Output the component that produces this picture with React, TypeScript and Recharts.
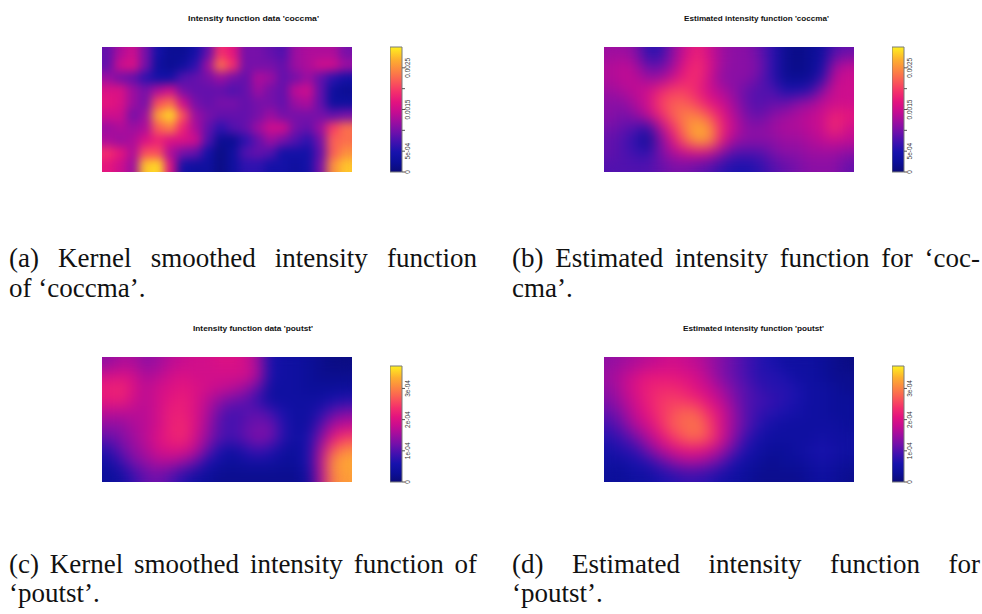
import { useMemo } from "react";
import { ScatterChart, Scatter, XAxis, YAxis, ReferenceArea, BarChart, Bar } from "recharts";

// Four intensity surfaces on a 20 x 10 grid (top row first).
// coccma values are in units of 1e-4, poutst values in units of 1e-5.
const COLS = 20;
const ROWS = 10;

const coccmaData = [
  [9, 13, 15, 10, 4, 2, 2, 4, 9, 19, 17, 10, 10, 9, 8, 12, 13, 13, 13, 10],
  [9, 15, 16, 10, 3, 2, 3, 6, 12, 23, 19, 10, 10, 10, 9, 12, 13, 15, 15, 12],
  [12, 10, 9, 6, 4, 4, 8, 9, 10, 12, 10, 9, 13, 12, 9, 10, 12, 9, 6, 4],
  [16, 16, 12, 10, 13, 15, 10, 9, 9, 9, 8, 9, 12, 10, 9, 14, 15, 9, 3, 2],
  [17, 16, 12, 10, 21, 23, 15, 10, 9, 10, 10, 9, 10, 10, 9, 12, 13, 9, 3, 3],
  [15, 15, 10, 12, 26, 29, 21, 12, 10, 9, 9, 9, 10, 12, 10, 10, 10, 10, 9, 10],
  [12, 13, 12, 13, 22, 24, 18, 13, 9, 6, 8, 9, 12, 15, 15, 10, 9, 12, 20, 23],
  [13, 12, 13, 16, 18, 16, 16, 15, 8, 2, 2, 6, 9, 12, 10, 8, 6, 10, 22, 23],
  [19, 17, 13, 21, 21, 13, 10, 9, 4, 1, 3, 8, 9, 8, 4, 4, 4, 9, 22, 25],
  [17, 15, 12, 28, 29, 16, 4, 3, 3, 1, 3, 6, 6, 4, 4, 3, 4, 10, 25, 28],
];

const coccmaEstimated = [
  [12, 12, 11, 6, 6, 11, 15, 18, 15, 12, 11, 11, 9, 6, 2, 1, 2, 3, 8, 9],
  [13, 14, 13, 9, 9, 12, 17, 19, 16, 12, 11, 11, 10, 6, 2, 1, 2, 4, 12, 14],
  [13, 14, 14, 12, 12, 15, 18, 19, 15, 11, 11, 11, 9, 6, 2, 2, 2, 6, 14, 15],
  [12, 13, 14, 15, 18, 20, 20, 18, 15, 13, 11, 9, 8, 8, 5, 5, 6, 11, 15, 15],
  [11, 11, 13, 15, 20, 22, 22, 20, 17, 15, 12, 9, 8, 9, 9, 11, 12, 14, 15, 15],
  [11, 10, 11, 14, 18, 22, 24, 24, 21, 17, 13, 10, 9, 11, 12, 13, 14, 15, 18, 17],
  [10, 9, 8, 6, 13, 19, 24, 27, 25, 18, 14, 11, 11, 12, 13, 13, 14, 15, 19, 15],
  [9, 8, 6, 2, 10, 16, 22, 26, 25, 17, 12, 11, 11, 11, 12, 12, 13, 14, 15, 14],
  [9, 8, 7, 6, 10, 13, 15, 16, 15, 11, 8, 8, 8, 10, 11, 11, 12, 12, 12, 11],
  [8, 8, 8, 8, 9, 10, 10, 9, 8, 6, 5, 5, 6, 8, 9, 10, 11, 11, 11, 9],
];

const poutstData = [
  [14, 16, 16, 14, 15, 17, 18, 19, 19, 20, 20, 19, 15, 6, 4, 4, 3, 2, 1, 1],
  [19, 20, 19, 16, 17, 19, 20, 19, 19, 19, 19, 19, 16, 6, 4, 4, 3, 2, 2, 2],
  [22, 23, 20, 17, 19, 20, 21, 20, 19, 18, 17, 15, 11, 4, 4, 4, 3, 3, 3, 3],
  [21, 22, 19, 17, 19, 21, 22, 20, 17, 14, 12, 11, 8, 4, 4, 4, 4, 4, 6, 7],
  [17, 17, 17, 17, 19, 22, 22, 20, 16, 11, 9, 10, 11, 9, 6, 4, 4, 7, 11, 13],
  [14, 14, 16, 17, 19, 22, 23, 20, 15, 10, 9, 11, 12, 12, 7, 4, 4, 10, 16, 18],
  [11, 13, 15, 17, 20, 22, 23, 19, 14, 10, 9, 11, 13, 12, 7, 4, 6, 13, 21, 25],
  [7, 11, 14, 16, 19, 20, 20, 17, 11, 6, 4, 7, 9, 7, 4, 3, 6, 16, 27, 31],
  [4, 8, 12, 14, 16, 16, 14, 11, 6, 4, 3, 4, 4, 4, 3, 3, 6, 17, 31, 33],
  [3, 4, 8, 11, 12, 10, 7, 4, 3, 2, 2, 2, 2, 2, 2, 2, 4, 16, 30, 32],
];

const poutstEstimated = [
  [14, 15, 16, 17, 18, 19, 18, 17, 15, 13, 11, 9, 7, 6, 4, 4, 4, 3, 2, 1],
  [15, 17, 19, 21, 21, 21, 20, 19, 16, 13, 11, 9, 7, 7, 6, 4, 4, 3, 2, 2],
  [14, 17, 20, 22, 23, 23, 22, 20, 18, 15, 12, 10, 8, 7, 7, 6, 4, 4, 3, 2],
  [13, 16, 19, 22, 24, 25, 24, 23, 20, 17, 13, 10, 9, 8, 7, 6, 4, 4, 3, 3],
  [11, 14, 18, 21, 24, 26, 28, 27, 23, 19, 14, 10, 8, 7, 6, 5, 4, 4, 3, 3],
  [9, 12, 16, 19, 23, 27, 28, 29, 25, 19, 14, 10, 7, 5, 4, 4, 4, 4, 4, 3],
  [7, 9, 12, 16, 20, 24, 27, 28, 25, 19, 13, 8, 5, 4, 4, 4, 4, 5, 4, 4],
  [5, 7, 8, 12, 16, 19, 21, 21, 19, 15, 10, 6, 4, 3, 3, 4, 5, 6, 5, 4],
  [4, 4, 6, 7, 10, 13, 15, 15, 13, 10, 6, 4, 3, 2, 3, 3, 4, 5, 4, 3],
  [3, 3, 4, 4, 6, 7, 8, 8, 7, 5, 4, 3, 2, 2, 2, 2, 3, 4, 3, 2],
];

// colour ribbon scales (same units as the grids)
const coccmaMax = 30;
const coccmaTicks = [0, 5, 10, 15, 20, 25];
const coccmaTickLabels = ["0", "5e-04", "", "0.0015", "", "0.0025"];
const poutstMax = 37.2;
const poutstTicks = [0, 10, 20, 30];
const poutstTickLabels = ["0", "1e-04", "2e-04", "3e-04"];

// blue - magenta - yellow ramp
const STOPS: [number, string][] = [
  [0, "#0b0b78"],
  [0.08, "#0c0f9a"],
  [0.16, "#1812ad"],
  [0.24, "#4111b0"],
  [0.32, "#7010ab"],
  [0.4, "#9c0ea0"],
  [0.48, "#c60c91"],
  [0.56, "#e3137f"],
  [0.64, "#f42f6c"],
  [0.72, "#fa5758"],
  [0.8, "#fc7f45"],
  [0.9, "#fdb02f"],
  [1, "#fff01f"],
];

function rgb(h: string) {
  return [1, 3, 5].map((i) => parseInt(h.slice(i, i + 2), 16));
}

function colourAt(t: number) {
  const v = Math.max(0, Math.min(1, t));
  for (let i = 1; i < STOPS.length; i++) {
    if (v <= STOPS[i][0]) {
      const [t0, c0] = STOPS[i - 1];
      const [t1, c1] = STOPS[i];
      const f = (v - t0) / (t1 - t0);
      const a = rgb(c0);
      const b = rgb(c1);
      return `rgb(${a.map((x, k) => Math.round(x + (b[k] - x) * f)).join(",")})`;
    }
  }
  return STOPS[STOPS.length - 1][1];
}

const HM_W = 250;
const HM_H = 125;
const CB_W = 12;

function Heatmap({
  grid, max, left, top, soft,
}: { grid: number[][]; max: number; left: number; top: number; soft?: boolean }) {
  const data = useMemo(
    () => grid.flatMap((row, j) => row.map((v, i) => ({ x: i + 0.5, y: ROWS - j - 0.5, v }))),
    [grid],
  );
  const cw = HM_W / COLS;
  const ch = HM_H / ROWS;
  return (
    <div className={soft ? "heat-soft" : "heat-sharp"} style={{ position: "absolute", left, top }}>
      <ScatterChart width={HM_W} height={HM_H} margin={{ top: 0, right: 0, bottom: 0, left: 0 }}>
        <XAxis type="number" dataKey="x" domain={[0, COLS]} hide />
        <YAxis type="number" dataKey="y" domain={[0, ROWS]} hide />
        <Scatter
          data={data}
          isAnimationActive={false}
          shape={(p: any) => (
            <rect
              x={p.cx - cw / 2 - 0.4}
              y={p.cy - ch / 2 - 0.4}
              width={cw + 0.8}
              height={ch + 0.8}
              fill={colourAt(p.payload.v / max)}
            />
          )}
        />
        <ReferenceArea x1={0} x2={COLS} y1={0} y2={ROWS} fill="none" fillOpacity={0} stroke="#6f6f6f" strokeWidth={1} ifOverflow="visible" />
      </ScatterChart>
    </div>
  );
}

function ColourBar({
  left, top, height, max, ticks, labels,
}: { left: number; top: number; height: number; max: number; ticks: number[]; labels: string[] }) {
  return (
    <div style={{ position: "absolute", left, top: top - 6 }}>
      <BarChart
        width={CB_W + 26}
        height={height + 12}
        data={[{ k: "ribbon", v: max }]}
        margin={{ top: 6, right: 0, bottom: 6, left: 0 }}
        barCategoryGap={0}
      >
        <XAxis dataKey="k" hide />
        <YAxis
          orientation="right"
          width={26}
          domain={[0, max]}
          ticks={ticks}
          interval={0}
          tickSize={3}
          axisLine={false}
          tickLine={{ stroke: "#555" }}
          tick={(p: any) => (
            <text
              transform={`translate(${p.x + 2.5},${p.y}) rotate(-90)`}
              textAnchor="middle"
              fontSize={6.5}
              fill="#333"
              fontFamily="'Liberation Sans', Arial, sans-serif"
            >
              {labels[ticks.indexOf(p.payload.value)]}
            </text>
          )}
        />
        <Bar dataKey="v" fill="url(#cbGrad)" stroke="#7a7a7a" strokeWidth={1} isAnimationActive={false} />
      </BarChart>
    </div>
  );
}

const CAP_FONT = "'Liberation Serif', 'DejaVu Serif', serif";
const CAP_SIZE = 27;
let measureCtx: CanvasRenderingContext2D | null = null;

function textWidth(s: string) {
  if (!measureCtx) measureCtx = document.createElement("canvas").getContext("2d");
  if (!measureCtx) return s.length * CAP_SIZE * 0.45;
  measureCtx.font = `${CAP_SIZE}px "Liberation Serif"`;
  return measureCtx.measureText(s).width;
}

// lays the words of a justified caption line out between x0 and x1
function JustifiedLine({ text, x0, x1, y }: { text: string; x0: number; x1: number; y: number }) {
  const words = text.split(" ");
  const widths = words.map(textWidth);
  const gap = (x1 - x0 - widths.reduce((a, b) => a + b, 0)) / (words.length - 1);
  let x = x0;
  return (
    <>
      {words.map((w, i) => {
        const el = (
          <text key={i} x={x} y={y}>
            {w}
          </text>
        );
        x += widths[i] + gap;
        return el;
      })}
    </>
  );
}

function Title({ x, y, w, children }: { x: number; y: number; w: number; children: string }) {
  return (
    <text
      x={x}
      y={y}
      textAnchor="middle"
      fontSize={8}
      fontWeight="bold"
      fontFamily="'Liberation Sans', Arial, sans-serif"
      textLength={w}
      lengthAdjust="spacingAndGlyphs"
      fill="#111"
    >
      {children}
    </text>
  );
}

export default function App() {
  return (
    <div style={{ position: "absolute", left: 0, top: 0, width: 982, height: 614, background: "#fff", overflow: "hidden" }}>
      <style>{`.heat-sharp .recharts-scatter { filter: url(#blurSharp); } .heat-soft .recharts-scatter { filter: url(#blurSoft); }`}</style>

      <Heatmap grid={coccmaData} max={coccmaMax} left={102} top={47} />
      <ColourBar left={390} top={47} height={125} max={coccmaMax} ticks={coccmaTicks} labels={coccmaTickLabels} />

      <Heatmap grid={coccmaEstimated} max={coccmaMax} left={604} top={47} soft />
      <ColourBar left={892} top={47} height={125} max={coccmaMax} ticks={coccmaTicks} labels={coccmaTickLabels} />

      <Heatmap grid={poutstData} max={poutstMax} left={102} top={357} soft />
      <ColourBar left={390} top={366} height={116} max={poutstMax} ticks={poutstTicks} labels={poutstTickLabels} />

      <Heatmap grid={poutstEstimated} max={poutstMax} left={604} top={357} soft />
      <ColourBar left={892} top={366} height={116} max={poutstMax} ticks={poutstTicks} labels={poutstTickLabels} />

      <svg width={982} height={614} style={{ position: "absolute", left: 0, top: 0, pointerEvents: "none" }}>
        <defs>
          <filter id="blurSharp" x="0" y="0" width="1" height="1" colorInterpolationFilters="sRGB">
            <feGaussianBlur stdDeviation="5" />
            <feComponentTransfer>
              <feFuncA type="linear" slope="20" intercept="0" />
            </feComponentTransfer>
          </filter>
          <filter id="blurSoft" x="0" y="0" width="1" height="1" colorInterpolationFilters="sRGB">
            <feGaussianBlur stdDeviation="7" />
            <feComponentTransfer>
              <feFuncA type="linear" slope="20" intercept="0" />
            </feComponentTransfer>
          </filter>
          <linearGradient id="cbGrad" x1="0" y1="1" x2="0" y2="0">
            {STOPS.map(([t, c]) => (
              <stop key={t} offset={t} stopColor={c} />
            ))}
          </linearGradient>
        </defs>

        <Title x={253.5} y={20.5} w={131}>Intensity function data 'coccma'</Title>
        <Title x={756.5} y={20.5} w={145}>Estimated intensity function 'coccma'</Title>
        <Title x={253} y={331} w={120}>Intensity function data 'poutst'</Title>
        <Title x={753.5} y={331} w={141}>Estimated intensity function 'poutst'</Title>

        <g fontFamily={CAP_FONT} fontSize={CAP_SIZE} fill="#111">
          <JustifiedLine text="(a) Kernel smoothed intensity function" x0={9} x1={477} y={267} />
          <text x={9} y={297}>of ‘coccma’.</text>
          <JustifiedLine text="(b) Estimated intensity function for ‘coc-" x0={512} x1={980} y={267} />
          <text x={512} y={297}>cma’.</text>
          <JustifiedLine text="(c) Kernel smoothed intensity function of" x0={9} x1={477} y={573} />
          <text x={9} y={602}>‘poutst’.</text>
          <JustifiedLine text="(d) Estimated intensity function for" x0={512} x1={980} y={573} />
          <text x={512} y={602}>‘poutst’.</text>
        </g>
      </svg>
    </div>
  );
}
